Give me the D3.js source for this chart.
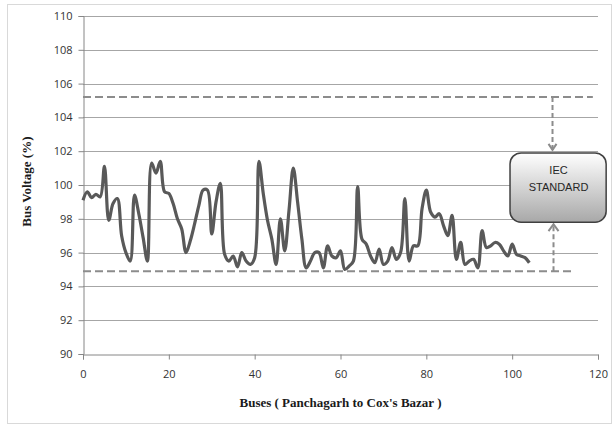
<!DOCTYPE html>
<html>
<head>
<meta charset="utf-8">
<script src="https://cdn.jsdelivr.net/npm/d3@7"></script>
<style>
  body { margin: 0; background: #fff; }
  svg { display: block; }
</style>
</head>
<body>
<svg id="chart" width="616" height="427"></svg>
<script>
// bus voltage (%), bus 0..104
var voltage = [
  99.1, 99.6, 99.25, 99.45, 99.3, 101.1, 97.9, 98.9, 99.2, 97.0,
  96.0, 95.5, 99.4, 98.3, 96.9, 95.5, 101.3, 100.7, 101.4, 99.6,
  99.5, 98.9, 98.0, 97.4, 96.0, 96.7, 97.7, 98.8, 99.7, 99.7,
  97.1, 99.0, 100.1, 95.9, 95.5, 95.8, 95.15, 96.0, 95.5, 95.3,
  95.7, 101.4, 99.5, 97.9, 96.8, 95.3, 98.0, 96.1, 98.5, 101.0,
  99.0, 96.8, 95.1, 95.5, 96.0, 96.0, 95.1, 96.4, 95.8, 95.7,
  96.1, 95.0, 95.2, 95.5, 99.9, 96.8, 96.5, 95.8, 95.4, 96.2,
  95.3, 95.5, 96.3, 95.6, 96.0, 99.2, 95.5, 96.4, 96.4, 98.6,
  99.7, 98.4, 98.1, 98.3, 97.6, 97.0, 98.2, 95.6, 96.6, 95.3,
  95.5, 95.6, 95.1, 97.3, 96.3, 96.4, 96.6, 96.5, 96.1, 95.8,
  96.5, 95.9, 95.8, 95.7, 95.4
];
var buses = voltage.map(function (v, i) { return i; });

var xTicks = [0, 20, 40, 60, 80, 100, 120];
var yTicks = [90, 92, 94, 96, 98, 100, 102, 104, 106, 108, 110];

// IEC limits drawn as dashed lines
var upperLimit = 105.2;
var lowerLimit = 94.9;
var boxLabel = ["IEC", "STANDARD"];

var svg = d3.select("#chart");
var plotLeft = 83, plotRight = 598, plotTop = 16, plotBottom = 354;

var x = d3.scaleLinear().domain([0, 120]).range([plotLeft, plotRight]);
var y = d3.scaleLinear().domain([90, 110]).range([plotBottom, plotTop]);

// outer border
svg.append("rect")
  .attr("x", 7.5).attr("y", 4.5).attr("width", 604).attr("height", 419)
  .attr("fill", "#fff").attr("stroke", "#d9d9d9");

// grid
svg.append("g")
  .selectAll("line")
  .data(yTicks.slice(1))
  .join("line")
    .attr("x1", plotLeft).attr("x2", plotRight)
    .attr("y1", d => Math.round(y(d)) + 0.5).attr("y2", d => Math.round(y(d)) + 0.5)
    .attr("stroke", "#a6a6a6");

// axes
var yAxis = d3.axisLeft(y).tickValues(yTicks).tickSize(5).tickPadding(6);
var xAxis = d3.axisBottom(x).tickValues(xTicks).tickSize(5).tickPadding(11);

var gy = svg.append("g").attr("transform", "translate(" + (plotLeft + 0.5) + ",0)").call(yAxis);
var gx = svg.append("g").attr("transform", "translate(0," + (plotBottom + 0.5) + ")").call(xAxis);
[gx, gy].forEach(function (g) {
  g.select(".domain").attr("stroke", "#868686");
  g.selectAll(".tick line").attr("stroke", "#868686");
  g.selectAll(".tick text")
    .attr("fill", "#333")
    .style("font-family", "'Open Sans', sans-serif")
    .style("font-size", "11px");
});

// axis titles
svg.append("text")
  .attr("transform", "translate(31," + y(100.2) + ") rotate(-90)")
  .attr("text-anchor", "middle")
  .style("font-family", "'Liberation Serif', serif")
  .style("font-weight", "bold")
  .style("font-size", "13px")
  .attr("fill", "#1a1a1a")
  .text("Bus Voltage (%)");

svg.append("text")
  .attr("x", x(60)).attr("y", 407)
  .attr("text-anchor", "middle")
  .style("font-family", "'Liberation Serif', serif")
  .style("font-weight", "bold")
  .style("font-size", "13px")
  .attr("fill", "#1a1a1a")
  .text("Buses ( Panchagarh to Cox's Bazar )");

// IEC limit lines
svg.append("line")
  .attr("x1", plotLeft).attr("x2", x(118.8))
  .attr("y1", y(upperLimit)).attr("y2", y(upperLimit))
  .attr("stroke", "#8c8c8c").attr("stroke-width", 2).attr("stroke-dasharray", "8,4");
svg.append("line")
  .attr("x1", plotLeft).attr("x2", x(114))
  .attr("y1", y(lowerLimit)).attr("y2", y(lowerLimit))
  .attr("stroke", "#8c8c8c").attr("stroke-width", 2).attr("stroke-dasharray", "8,4");

// data line
var line = d3.line()
  .x((d, i) => x(buses[i]))
  .y(d => y(d))
  .curve(d3.curveCatmullRom);

svg.append("path")
  .datum(voltage)
  .attr("d", line)
  .attr("fill", "none")
  .attr("stroke", "#595959")
  .attr("stroke-width", 3.2)
  .attr("stroke-linejoin", "round");

// annotation box
var defs = svg.append("defs");
var grad = defs.append("linearGradient").attr("id", "boxgrad")
  .attr("x1", 0).attr("y1", 0).attr("x2", 0).attr("y2", 1);
grad.append("stop").attr("offset", "0%").attr("stop-color", "#ffffff");
grad.append("stop").attr("offset", "100%").attr("stop-color", "#a8a8a8");

var arrowX = x(109.4);
var boxTop = y(101.9), boxBottom = y(97.8);

svg.append("line")
  .attr("x1", arrowX).attr("x2", arrowX)
  .attr("y1", y(upperLimit)).attr("y2", boxTop - 3)
  .attr("stroke", "#8c8c8c").attr("stroke-width", 2).attr("stroke-dasharray", "5,3");
svg.append("path")
  .attr("d", "M" + (arrowX - 4) + "," + (boxTop - 9) + "L" + arrowX + "," + (boxTop - 3) + "L" + (arrowX + 4) + "," + (boxTop - 9))
  .attr("fill", "none").attr("stroke", "#8c8c8c").attr("stroke-width", 2);

svg.append("line")
  .attr("x1", arrowX + 1).attr("x2", arrowX + 1)
  .attr("y1", y(lowerLimit)).attr("y2", boxBottom + 2)
  .attr("stroke", "#8c8c8c").attr("stroke-width", 2).attr("stroke-dasharray", "5,3");
svg.append("path")
  .attr("d", "M" + (arrowX - 4) + "," + (boxBottom + 9) + "L" + (arrowX + 1) + "," + (boxBottom + 2) + "L" + (arrowX + 6) + "," + (boxBottom + 9))
  .attr("fill", "none").attr("stroke", "#8c8c8c").attr("stroke-width", 2);

svg.append("rect")
  .attr("x", x(99.5)).attr("y", boxTop)
  .attr("width", x(121.9) - x(99.5)).attr("height", boxBottom - boxTop)
  .attr("rx", 11).attr("ry", 11)
  .attr("fill", "url(#boxgrad)")
  .attr("stroke", "#404040").attr("stroke-width", 1.5);

svg.append("g")
  .selectAll("text")
  .data(boxLabel)
  .join("text")
    .attr("x", x(110.8))
    .attr("y", (d, i) => boxTop + 21 + i * 17)
    .attr("text-anchor", "middle")
    .style("font-family", "'Liberation Sans', sans-serif")
    .style("font-size", "11px")
    .attr("fill", "#262626")
    .text(d => d);
</script>
</body>
</html>
